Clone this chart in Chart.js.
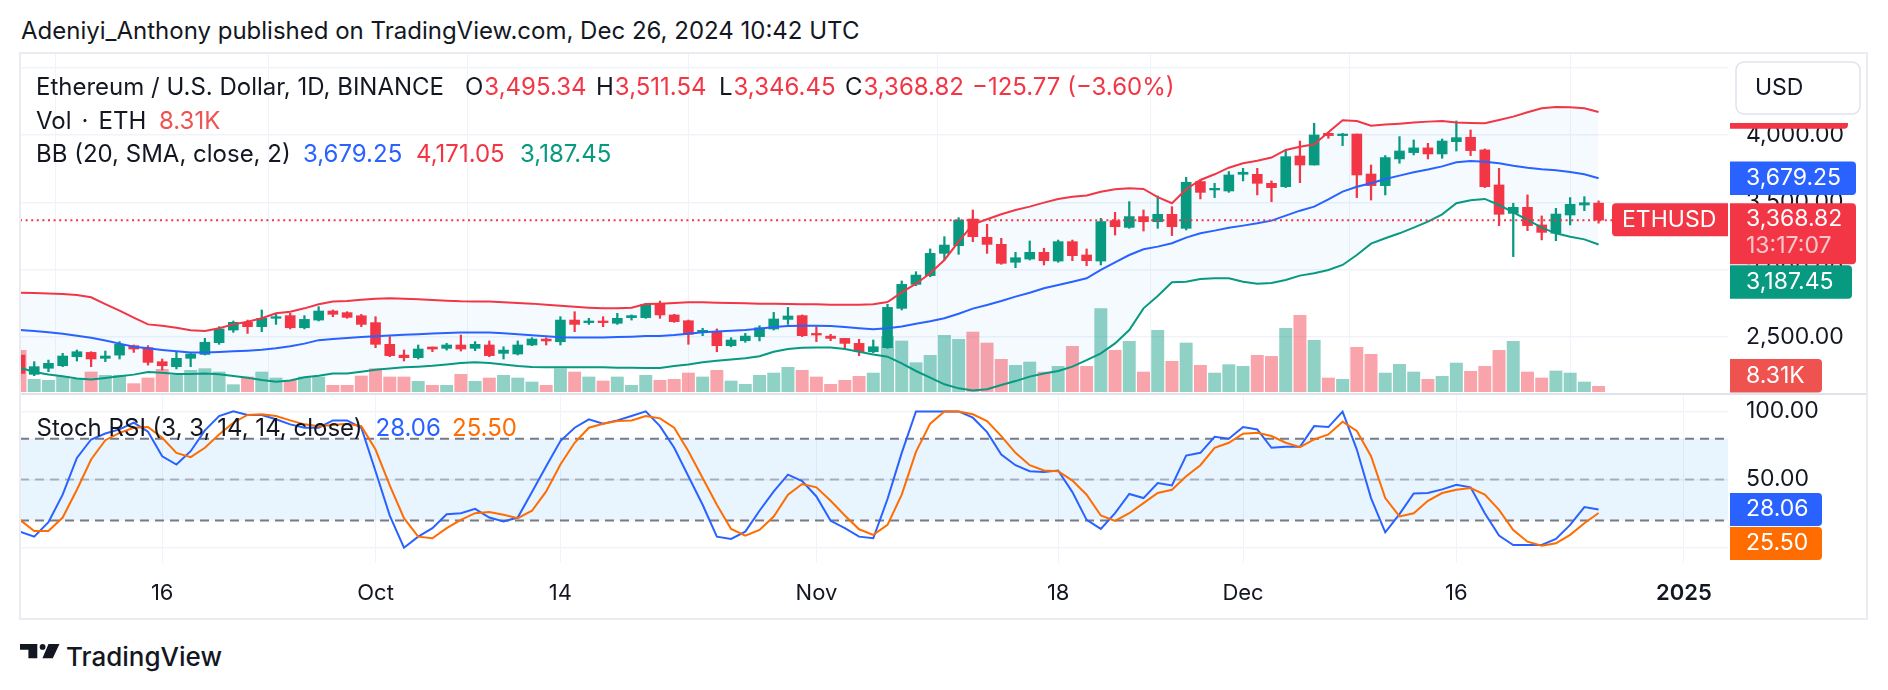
<!DOCTYPE html>
<html>
<head>
<meta charset="utf-8">
<script src="https://cdn.jsdelivr.net/npm/chart.js@4.4.1/dist/chart.umd.min.js"></script>
<style>
html,body{margin:0;padding:0;background:#fff;}
body{width:1888px;height:690px;position:relative;overflow:hidden;font-family:Inter,"Noto Sans",sans-serif;color:#131722;}
.abs{position:absolute;white-space:nowrap;}
canvas{position:absolute;left:0;}
.row{position:absolute;left:0;height:28px;width:1200px;white-space:nowrap;font-size:24px;line-height:28px;}
.row > span{position:absolute;top:0;}
.row span b{font-weight:400;color:#131722;margin-right:1px;}
.ln{position:absolute;}
</style>
</head>
<body>
<div class="abs" style="left:21px;top:15.5px;font-size:24px;line-height:30px;">Adeniyi_Anthony published on TradingView.com, Dec 26, 2024 10:42 UTC</div>

<canvas id="price" width="1888" height="394" style="top:0;width:1888px;height:394px;"></canvas>
<canvas id="stoch" width="1888" height="226" style="top:394px;width:1888px;height:226px;"></canvas>

<div class="ln" style="left:19px;top:52px;width:1849px;height:2px;background:#eaecf1;"></div>
<div class="ln" style="left:19px;top:52px;width:2px;height:568px;background:#eaecf1;"></div>
<div class="ln" style="left:1866px;top:52px;width:2px;height:568px;background:#eaecf1;"></div>
<div class="ln" style="left:19px;top:618px;width:1849px;height:2px;background:#eaecf1;"></div>
<div class="ln" style="left:21px;top:393px;width:1845px;height:2px;background:#e0e3eb;"></div>

<div class="row" style="top:72.7px;">
  <span style="left:36px">Ethereum / U.S. Dollar, 1D, BINANCE</span>
  <span style="left:465px;color:#f23645"><b>O</b>3,495.34</span>
  <span style="left:596px;color:#f23645"><b>H</b>3,511.54</span>
  <span style="left:719px;color:#f23645"><b>L</b>3,346.45</span>
  <span style="left:845px;color:#f23645"><b>C</b>3,368.82</span>
  <span style="left:972px;color:#f23645">−125.77 (−3.60%)</span>
</div>
<div class="row" style="top:106.7px;">
  <span style="left:36px">Vol<span style="margin:0 10px">·</span>ETH</span>
  <span style="left:159px;color:#ef5350">8.31K</span>
</div>
<div class="row" style="top:140px;">
  <span style="left:36px">BB (20, SMA, close, 2)</span>
  <span style="left:303px;color:#2962ff">3,679.25</span>
  <span style="left:416px;color:#f23645">4,171.05</span>
  <span style="left:520px;color:#089981">3,187.45</span>
</div>
<div class="row" style="top:414.3px;">
  <span style="left:36.5px">Stoch RSI (3, 3, 14, 14, close)</span>
  <span style="left:375.5px;color:#2962ff">28.06</span>
  <span style="left:452px;color:#ff6d00">25.50</span>
</div>

<svg class="abs" style="left:20px;top:644px;" width="42" height="15" viewBox="0 0 42 15">
  <path d="M0 0 H17.3 V14.2 H8.4 V5.8 H0 Z" fill="#131722"/>
  <circle cx="22.6" cy="2.9" r="2.9" fill="#131722"/>
  <path d="M28.5 0 H39.5 L32.8 14.2 H22.4 Z" fill="#131722"/>
</svg>
<div class="abs" style="left:66px;top:641px;font-size:26px;line-height:32px;font-weight:500;">TradingView</div>

<script>
// ---------------- data ----------------
const firstDate = '2024-09-06';
const tickDates  = ['2024-09-16','2024-10-01','2024-10-14','2024-11-01','2024-11-18','2024-12-01','2024-12-16','2025-01-01'];
const tickLabels = ['16','Oct','14','Nov','18','Dec','16','2025'];
const priceTicks = [2500, 3000, 3500, 4000, 4500];
const stochTicks = [0, 50, 100];
const stochLevels = [80, 50, 20];

const opens = [2367,2224,2269,2288,2355,2387,2343,2367,2437,2422,
2318,2281,2343,2372,2459,2553,2610,2578,2640,2660,
2570,2627,2694,2682,2659,2608,2447,2367,2348,2427,
2417,2442,2417,2442,2380,2375,2442,2486,2466,2627,
2608,2620,2603,2645,2645,2744,2665,2622,2535,2541,
2437,2474,2504,2561,2632,2660,2523,2508,2491,2454,
2392,2422,2714,2892,2957,3122,3179,3377,3241,3189,
3056,3080,3130,3065,3209,3110,3065,3365,3315,3395,
3357,3412,3308,3655,3593,3585,3709,3709,3642,3617,
3845,3778,4013,3996,4008,3711,3625,3823,3870,3905,
3860,3951,3984,3890,3630,3419,3464,3333,3271,3407,
3481,3495.34];
const highs = [2395,2318,2330,2380,2405,2392,2397,2467,2442,2437,
2338,2392,2380,2491,2578,2620,2627,2702,2677,2677,
2660,2726,2702,2689,2669,2652,2504,2405,2442,2427,
2454,2516,2467,2472,2429,2472,2496,2496,2652,2689,
2640,2652,2677,2665,2751,2768,2670,2627,2566,2561,
2496,2528,2585,2684,2721,2665,2578,2521,2491,2484,
2479,2744,2917,2986,3155,3246,3387,3444,3338,3234,
3130,3214,3160,3221,3221,3155,3382,3427,3506,3444,
3548,3469,3687,3664,3642,3729,3753,3753,3660,3890,
3956,4088,4021,4013,4008,3778,3848,3989,3964,3939,
3971,4105,4038,3897,3753,3494,3556,3400,3456,3536,
3543,3511.54];
const lows = [2200,2214,2244,2281,2323,2281,2318,2338,2387,2293,
2256,2264,2281,2368,2447,2536,2528,2541,2595,2561,
2561,2620,2652,2640,2578,2422,2355,2323,2338,2392,
2404,2397,2400,2355,2338,2368,2437,2442,2442,2541,
2595,2578,2595,2627,2640,2640,2610,2447,2511,2392,
2429,2462,2472,2553,2595,2504,2467,2474,2417,2363,
2385,2417,2702,2882,2949,3073,3115,3209,3122,3041,
3016,3073,3036,3056,3068,3031,3036,3258,3308,3288,
3308,3254,3296,3526,3536,3575,3660,3556,3506,3610,
3647,3778,3976,3922,3536,3518,3556,3791,3853,3823,
3828,3882,3848,3610,3328,3098,3291,3222,3216,3333,
3439,3346.45];
const closes = [2231,2281,2306,2360,2392,2338,2360,2447,2412,2313,
2288,2343,2375,2462,2561,2610,2578,2640,2650,2570,
2632,2694,2670,2647,2595,2447,2363,2348,2412,2412,
2442,2412,2447,2363,2404,2442,2486,2472,2627,2595,
2620,2608,2640,2660,2744,2665,2615,2521,2551,2437,
2479,2508,2570,2635,2657,2511,2516,2491,2454,2392,
2429,2721,2892,2961,3122,3184,3370,3246,3189,3048,
3090,3130,3068,3209,3105,3068,3358,3320,3395,3357,
3412,3320,3650,3575,3605,3704,3724,3642,3610,3840,
3778,4001,3996,4008,3704,3625,3833,3882,3905,3860,
3956,3981,3885,3617,3412,3464,3328,3278,3414,3486,
3498,3368.82];
// volume in thousands of ETH
const volumes = [61.3,18.6,17.2,23.0,18.6,29.4,24.5,24.5,12.3,20.6,
33.3,24.5,31.9,34.3,29.4,10.8,22.1,29.4,20.6,17.2,
22.1,22.1,9.8,9.8,23.5,34.3,22.1,22.1,15.7,9.8,
9.8,26.0,15.7,20.6,24.5,20.6,14.7,9.8,34.3,29.4,
22.1,16.2,22.1,9.8,24.5,17.2,18.6,27.9,22.1,31.9,
16.2,11.3,24.5,27.9,36.3,31.9,22.1,11.3,17.2,23.0,
27.9,81.8,75.0,43.1,53.9,83.3,77.4,88.2,72.0,48.0,
39.2,44.1,29.4,37.7,67.1,37.7,122.5,61.3,74.5,29.4,
90.7,45.1,72.0,39.2,27.9,40.2,37.7,53.9,52.4,93.6,
112.7,76.0,20.6,18.6,65.7,55.4,27.9,40.7,29.4,18.6,
23.0,42.6,30.4,37.7,61.3,74.5,29.4,20.6,30.9,27.9,
14.7,8.31];
const bbUpper = [2830,2828,2825,2820,2813,2796,2746,2697,2645,2595,
2585,2570,2551,2546,2566,2595,2615,2640,2677,2689,
2714,2744,2764,2768,2778,2786,2788,2786,2781,2776,
2771,2766,2764,2764,2759,2754,2749,2741,2734,2726,
2719,2714,2714,2719,2746,2749,2754,2759,2759,2756,
2754,2751,2749,2749,2746,2744,2744,2741,2741,2741,
2744,2761,2833,2897,2974,3073,3209,3338,3375,3412,
3444,3469,3499,3526,3543,3551,3580,3598,3605,3600,
3540,3494,3598,3667,3709,3758,3791,3810,3833,3890,
3914,3932,4021,4110,4105,4070,4078,4085,4093,4100,
4105,4093,4090,4088,4112,4137,4169,4199,4209,4206,
4199,4171.05];
const bbBasis = [2553,2546,2536,2526,2511,2496,2476,2452,2429,2417,
2405,2395,2387,2387,2390,2395,2400,2407,2417,2432,
2452,2478,2487,2494,2501,2507,2513,2518,2522,2527,
2531,2535,2535,2534,2530,2522,2515,2507,2500,2498,
2497,2498,2501,2504,2508,2509,2516,2526,2536,2543,
2548,2553,2563,2575,2583,2585,2585,2583,2575,2566,
2558,2566,2580,2600,2618,2640,2674,2712,2739,2768,
2801,2830,2863,2887,2912,2937,2999,3056,3110,3152,
3172,3197,3239,3271,3291,3313,3328,3345,3365,3402,
3439,3469,3523,3580,3617,3642,3674,3699,3724,3744,
3768,3798,3808,3803,3791,3773,3758,3746,3739,3726,
3709,3679.25];
const bbLower = [2273,2241,2223,2210,2194,2186,2197,2210,2222,2241,
2236,2226,2226,2231,2224,2212,2199,2182,2170,2179,
2202,2214,2231,2231,2244,2259,2268,2276,2281,2288,
2298,2308,2313,2308,2298,2286,2278,2276,2276,2276,
2276,2276,2273,2273,2271,2271,2286,2298,2313,2325,
2335,2343,2358,2392,2412,2422,2424,2424,2412,2392,
2372,2355,2306,2249,2199,2150,2120,2105,2113,2145,
2174,2207,2231,2249,2281,2330,2380,2454,2553,2714,
2805,2907,2912,2932,2937,2937,2912,2897,2902,2924,
2957,2974,2999,3036,3110,3194,3234,3271,3313,3358,
3412,3494,3516,3526,3481,3427,3370,3313,3271,3246,
3226,3187.45];
const stochK = [11.8,8.1,18.7,38.9,65.9,79.4,83.8,86.8,91.7,85.1,
67.1,61.0,70.8,86.1,96.6,100,97.4,97.4,94.2,90.5,
88.0,88.0,93.4,93.4,88.0,56.1,23.6,0,8.1,14.3,
24.6,25.3,28.5,22.1,19.2,22.1,40.8,59.8,78.2,88.0,
94.2,91.0,93.4,96.6,100,89.2,73.3,52.4,31.5,8.1,
6.4,11.8,27.1,41.3,53.6,48.9,37.6,19.7,14.3,8.1,
6.9,35.7,69.6,100,100,100,100,95.4,84.8,68.4,
60.5,56.1,55.6,56.6,40.8,20.4,13.8,25.3,39.4,36.4,
47.5,45.7,67.6,69.6,81.4,79.9,88.5,86.8,73.3,74.0,
74.0,89.2,88.5,99.8,72.0,36.4,11.3,24.6,39.8,40.1,
42.8,46.2,44.3,25.3,8.9,2.0,2.0,2.0,6.4,16.7,
29.8,28.06];
const stochD = [20.4,12.3,12.3,22.1,42.5,64.7,78.9,84.3,88.0,88.5,
80.6,69.6,66.4,73.3,83.1,91.7,97.4,97.9,96.6,93.4,
90.5,89.2,90.0,91.0,89.2,72.0,45.7,21.7,8.1,6.9,
14.3,20.4,25.3,26.1,24.1,21.7,27.1,41.3,61.0,77.0,
88.0,91.0,92.9,93.4,96.6,94.9,88.0,70.8,51.2,31.5,
13.8,8.9,13.0,22.9,38.9,46.7,44.3,34.4,23.6,13.5,
9.4,16.7,38.9,70.3,91.0,100,100,97.9,92.9,81.9,
69.6,60.5,56.6,56.1,49.2,38.9,23.6,19.7,25.3,32.7,
40.1,42.5,52.4,60.5,73.3,77.0,83.6,84.3,81.9,77.0,
73.8,79.4,83.1,92.4,85.6,67.1,36.4,22.9,25.3,34.4,
40.1,42.5,43.8,38.9,27.8,13.0,4.4,1.5,3.2,9.4,
17.9,25.50];
const countdown = '13:17:07';
const symbol = 'ETHUSD';

// ---------------- helpers ----------------
const UP = '#089981', DOWN = '#f23645';
const GRID = '#f0f3fa';
const FONT = 'Inter, "Noto Sans", sans-serif';
const N = closes.length, LAST = N - 1;
const idx = closes.map((_, i) => i);
const dayIndex = d => Math.round((Date.parse(d) - Date.parse(firstDate)) / 86400000);
const tickIdx = tickDates.map(dayIndex);
const X_MAX = 120.1;
const fmtPrice = v => Number(v).toLocaleString('en-US', {minimumFractionDigits: 2, maximumFractionDigits: 2});
const isUp = i => closes[i] >= opens[i];
const candleColors = idx.map(i => isUp(i) ? UP : DOWN);
const volColors = idx.map(i => isUp(i) ? 'rgba(8,153,129,0.45)' : 'rgba(242,54,69,0.45)');

Chart.defaults.font.family = FONT;
Chart.defaults.color = '#131722';

function labelBox(ctx, x, top, w, h, color, radii) {
  ctx.fillStyle = color;
  ctx.beginPath();
  ctx.roundRect(x, top, w, h, radii);
  ctx.fill();
}
function labelText(ctx, t, x, y, color) {
  ctx.fillStyle = color;
  ctx.fillText(t, x, y);
}
function noPad(ax) {
  ax.paddingTop = 0; ax.paddingBottom = 0; ax.paddingLeft = 0; ax.paddingRight = 0;
}

const xCommon = {
  type: 'linear', min: 0, max: X_MAX, offset: false,
  grid: {color: GRID, lineWidth: 1, drawTicks: false},
  border: {display: false},
  afterBuildTicks: ax => { ax.ticks = tickIdx.map(v => ({value: v})); }
};

// ---------------- price pane ----------------
const pricePlugin = {
  id: 'priceLabels',
  afterDatasetsDraw(chart) {
    const {ctx, chartArea, scales} = chart;
    const yp = scales.y.getPixelForValue(closes[LAST]);
    ctx.save();
    ctx.strokeStyle = DOWN;
    ctx.lineWidth = 2;
    ctx.setLineDash([2, 3.6]);
    ctx.beginPath();
    ctx.moveTo(chartArea.left, yp);
    ctx.lineTo(chartArea.right, yp);
    ctx.stroke();
    ctx.restore();
  },
  afterDraw(chart) {
    const {ctx, chartArea, scales} = chart;
    const y = scales.y, vol = scales.vol;
    const L = chartArea.right + 2, H = 33.5;
    ctx.save();
    ctx.font = '23px ' + FONT;
    ctx.textBaseline = 'middle';
    ctx.textAlign = 'left';
    // upper band label, mostly hidden behind the currency button
    const yu = y.getPixelForValue(bbUpper[LAST]);
    labelBox(ctx, L, yu - H / 2, 118, H, DOWN, [0, 4, 4, 0]);
    ctx.fillStyle = '#fff';
    ctx.fillRect(chartArea.right + 1, chartArea.top, 138, 123 - chartArea.top);
    ctx.fillStyle = '#fff';
    ctx.strokeStyle = '#e0e3eb';
    ctx.lineWidth = 1.5;
    ctx.beginPath();
    ctx.roundRect(1736, 62, 124, 52, 8);
    ctx.fill();
    ctx.stroke();
    labelText(ctx, 'USD', 1755, 88, '#131722');
    // basis
    const yb = y.getPixelForValue(bbBasis[LAST]);
    labelBox(ctx, L, yb - H / 2, 126, H, '#2962ff', [0, 4, 4, 0]);
    labelText(ctx, fmtPrice(bbBasis[LAST]), L + 16, yb, '#fff');
    // last price + countdown
    const yp = y.getPixelForValue(closes[LAST]);
    const pTop = yp - 17, pH = 61;
    labelBox(ctx, L, pTop, 126, pH, DOWN, [0, 4, 4, 0]);
    labelText(ctx, fmtPrice(closes[LAST]), L + 16, yp - 1.5, '#fff');
    labelText(ctx, countdown, L + 16, yp + 26, 'rgba(255,255,255,0.72)');
    // symbol tag
    labelBox(ctx, chartArea.right - 116, pTop, 116, 33, DOWN, [4, 0, 0, 4]);
    labelText(ctx, symbol, chartArea.right - 106, pTop + 16.5, '#fff');
    // lower band, pushed below the price label
    const yl = y.getPixelForValue(bbLower[LAST]);
    const lTop = Math.max(yl - H / 2, pTop + pH + 1);
    labelBox(ctx, L, lTop, 122, H, UP, [0, 4, 4, 0]);
    labelText(ctx, fmtPrice(bbLower[LAST]), L + 16, lTop + H / 2, '#fff');
    // volume, kept inside the pane
    const yv = vol.getPixelForValue(volumes[LAST]);
    const vTop = Math.min(yv - H / 2, chartArea.bottom + 0.5 - H);
    labelBox(ctx, L, vTop, 92, H, '#ef5350', [0, 4, 4, 0]);
    labelText(ctx, volumes[LAST].toFixed(2) + 'K', L + 16, vTop + H / 2, '#fff');
    ctx.restore();
  }
};

new Chart(document.getElementById('price'), {
  type: 'bar',
  data: {
    datasets: [
      {type: 'bar', label: 'Volume', yAxisID: 'vol', order: 10, grouped: false,
       data: idx.map(i => ({x: i, y: volumes[i]})), backgroundColor: volColors, barThickness: 12.3, borderWidth: 0},
      {type: 'bar', label: 'Wick', yAxisID: 'y', order: 8, grouped: false,
       data: idx.map(i => ({x: i, y: [lows[i], highs[i]]})), backgroundColor: candleColors, barThickness: 1.6, borderWidth: 0},
      {type: 'bar', label: 'Body', yAxisID: 'y', order: 7, grouped: false, minBarLength: 1.6,
       data: idx.map(i => ({x: i, y: [opens[i], closes[i]]})), backgroundColor: candleColors, barThickness: 10, borderWidth: 0},
      {type: 'line', label: 'Upper', yAxisID: 'y', order: 3,
       data: idx.map(i => ({x: i, y: bbUpper[i]})), borderColor: '#f23645', borderWidth: 2, pointRadius: 0, tension: 0,
       fill: '+2', backgroundColor: 'rgba(33,150,243,0.05)'},
      {type: 'line', label: 'Basis', yAxisID: 'y', order: 2,
       data: idx.map(i => ({x: i, y: bbBasis[i]})), borderColor: '#2962ff', borderWidth: 2, pointRadius: 0, tension: 0, fill: false},
      {type: 'line', label: 'Lower', yAxisID: 'y', order: 1,
       data: idx.map(i => ({x: i, y: bbLower[i]})), borderColor: '#089981', borderWidth: 2, pointRadius: 0, tension: 0, fill: false}
    ]
  },
  options: {
    animation: false, responsive: false, maintainAspectRatio: false,
    layout: {padding: {left: 20, right: 20, top: 54, bottom: 2}, autoPadding: false},
    plugins: {legend: {display: false}, tooltip: {enabled: false}, filler: {drawTime: 'beforeDatasetsDraw'}},
    scales: {
      x: Object.assign({}, xCommon, {ticks: {display: false}, afterFit: ax => { ax.height = 0; noPad(ax); }}),
      y: {
        type: 'linear', position: 'right', min: 2093, max: 4602,
        grid: {color: GRID, lineWidth: 1.5, drawTicks: false},
        border: {display: false},
        ticks: {padding: 18, font: {size: 23}, color: '#131722', callback: v => fmtPrice(v)},
        afterBuildTicks: ax => { ax.ticks = priceTicks.map(v => ({value: v})); },
        afterFit: ax => { ax.width = 140; noPad(ax); }
      },
      vol: {type: 'linear', axis: 'y', position: 'left', display: false, min: 0, max: 497}
    }
  },
  plugins: [pricePlugin]
});

// ---------------- stoch RSI pane ----------------
const stochPlugin = {
  id: 'stochBands',
  beforeDatasetsDraw(chart) {
    const {ctx, chartArea, scales} = chart;
    const y = scales.y;
    const yTop = y.getPixelForValue(stochLevels[0]);
    const yBot = y.getPixelForValue(stochLevels[2]);
    ctx.save();
    ctx.fillStyle = 'rgba(33,150,243,0.1)';
    ctx.fillRect(chartArea.left, yTop, chartArea.right - chartArea.left, yBot - yTop);
    ctx.setLineDash([9, 6]);
    stochLevels.forEach((lv, k) => {
      const yy = y.getPixelForValue(lv);
      ctx.strokeStyle = k === 1 ? 'rgba(120,123,134,0.55)' : '#787b86';
      ctx.lineWidth = 2;
      ctx.beginPath();
      ctx.moveTo(chartArea.left, yy);
      ctx.lineTo(chartArea.right, yy);
      ctx.stroke();
    });
    ctx.restore();
  },
  afterDraw(chart) {
    const {ctx, chartArea, scales} = chart;
    const y = scales.y;
    const L = chartArea.right + 2, H = 33;
    ctx.save();
    ctx.font = '23px ' + FONT;
    ctx.textBaseline = 'middle';
    const yk = y.getPixelForValue(stochK[LAST]);
    const kTop = yk - H / 2;
    labelBox(ctx, L, kTop, 92, H, '#2962ff', [0, 4, 4, 0]);
    labelText(ctx, stochK[LAST].toFixed(2), L + 16, yk, '#fff');
    const yd = y.getPixelForValue(stochD[LAST]);
    const dTop = Math.max(yd - H / 2, kTop + H + 1);
    labelBox(ctx, L, dTop, 92, H, '#ff6d00', [0, 4, 4, 0]);
    labelText(ctx, stochD[LAST].toFixed(2), L + 16, dTop + H / 2, '#fff');
    ctx.restore();
  }
};

new Chart(document.getElementById('stoch'), {
  type: 'line',
  data: {
    datasets: [
      {label: '%K', order: 2, data: idx.map(i => ({x: i, y: stochK[i]})), borderColor: '#2962ff', borderWidth: 2, pointRadius: 0, tension: 0, fill: false},
      {label: '%D', order: 1, data: idx.map(i => ({x: i, y: stochD[i]})), borderColor: '#ff6d00', borderWidth: 2, pointRadius: 0, tension: 0, fill: false}
    ]
  },
  options: {
    animation: false, responsive: false, maintainAspectRatio: false,
    layout: {padding: {left: 20, right: 20, top: 0, bottom: 0}, autoPadding: false},
    plugins: {legend: {display: false}, tooltip: {enabled: false}},
    scales: {
      x: Object.assign({}, xCommon, {
        ticks: {
          display: true, padding: 17, maxRotation: 0, autoSkip: false, color: '#131722',
          font: ctx => ({size: 22, weight: (ctx.tick && ctx.tick.label === '2025') ? '600' : '400'}),
          callback: v => { const k = tickIdx.indexOf(v); return k >= 0 ? tickLabels[k] : ''; }
        },
        afterFit: ax => { ax.height = 57; noPad(ax); }
      }),
      y: {
        type: 'linear', position: 'right', min: -11.23, max: 112.77,
        grid: {color: GRID, lineWidth: 1.5, drawTicks: false},
        border: {display: false},
        ticks: {padding: 18, font: {size: 23}, color: '#131722', callback: v => Number(v).toFixed(2)},
        afterBuildTicks: ax => { ax.ticks = stochTicks.map(v => ({value: v})); },
        afterFit: ax => { ax.width = 140; noPad(ax); }
      }
    }
  },
  plugins: [stochPlugin]
});
</script>
</body>
</html>
